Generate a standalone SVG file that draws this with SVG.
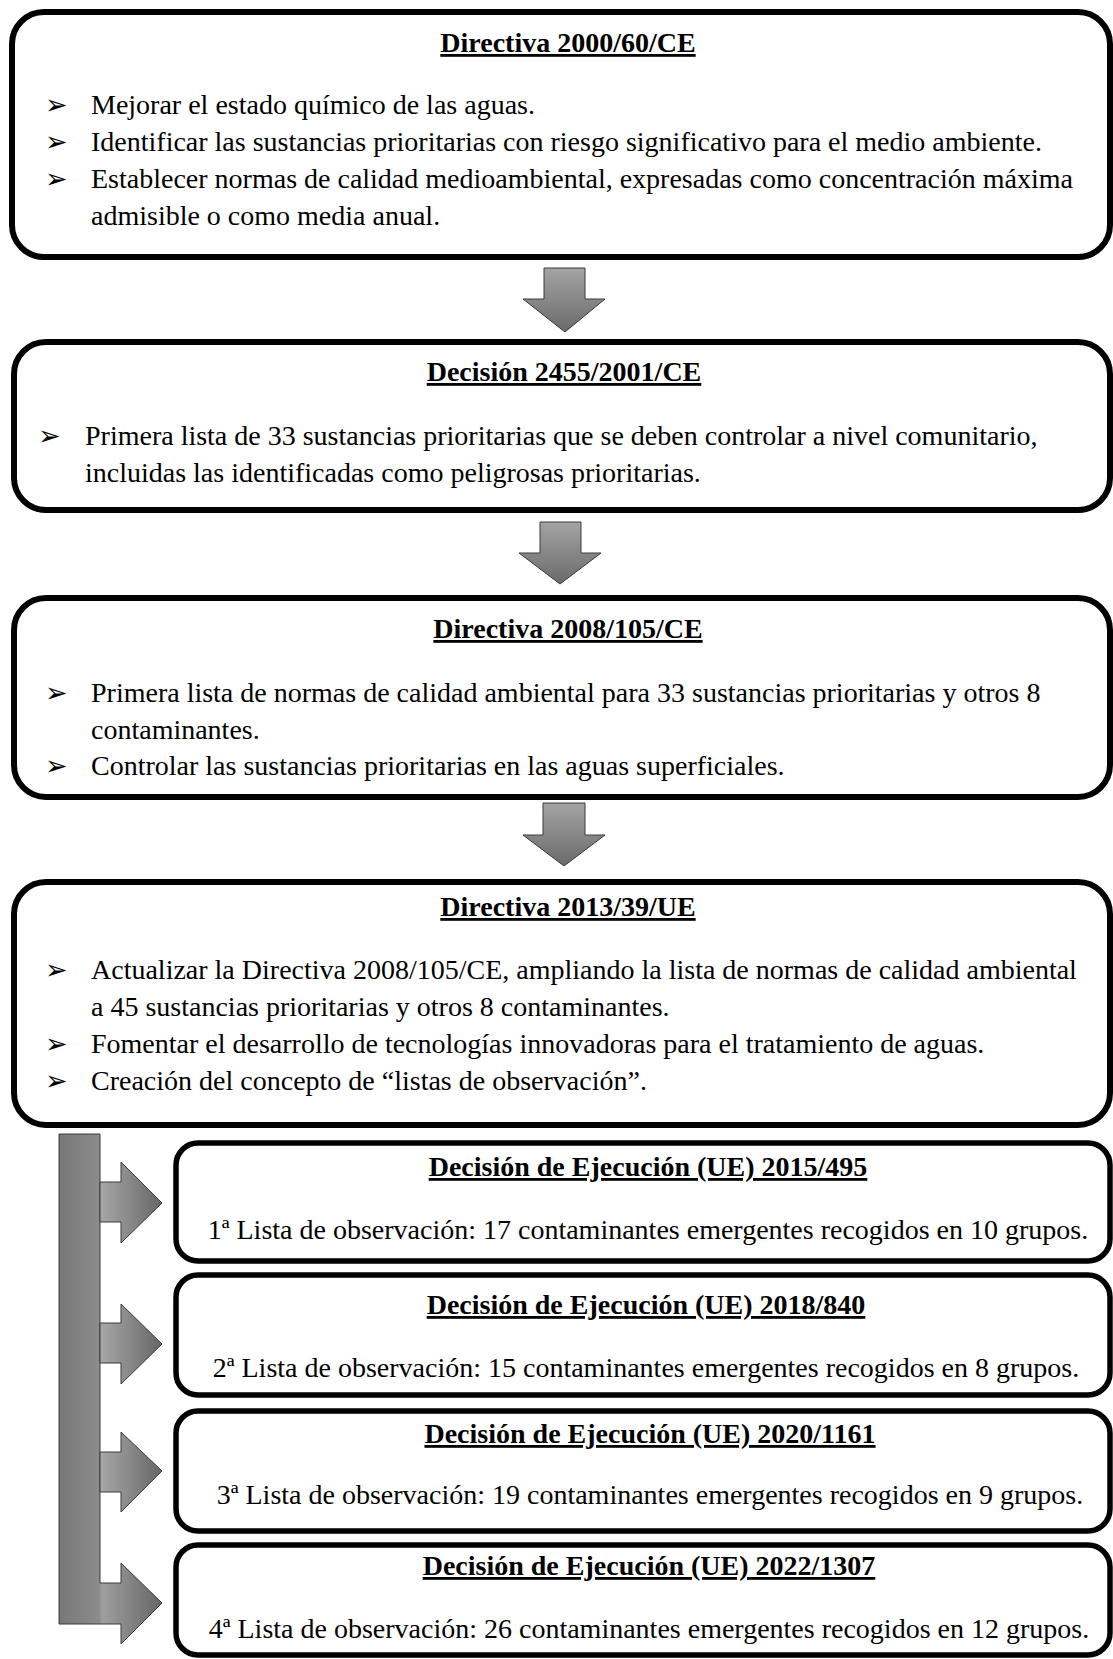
<svg xmlns="http://www.w3.org/2000/svg" width="1113" height="1659" viewBox="0 0 1113 1659">
<style>
.box{fill:#fff;stroke:#000;stroke-width:6}
.sbox{fill:#fff;stroke:#000;stroke-width:5.5}
text{font-family:"Liberation Serif","Times New Roman",serif;font-size:28px;fill:#000}
.t{font-weight:bold;text-decoration:underline;text-anchor:middle}
.c{text-anchor:middle}
.b{font-family:"DejaVu Sans",sans-serif;font-size:27px}
.arr{stroke:#3a3a3a;stroke-width:1}
</style>
<defs>
<linearGradient id="gDown" x1="0" y1="0" x2="0" y2="1">
<stop offset="0" stop-color="#a4a4a4"/>
<stop offset="1" stop-color="#6a6a6a"/>
</linearGradient>
<linearGradient id="gRight" x1="0" y1="0" x2="1" y2="0">
<stop offset="0" stop-color="#a8a8a8"/>
<stop offset="1" stop-color="#666"/>
</linearGradient>
<linearGradient id="gBar" gradientUnits="userSpaceOnUse" x1="59" y1="0" x2="162" y2="0">
<stop offset="0" stop-color="#777"/>
<stop offset="0.39" stop-color="#8c8c8c"/>
<stop offset="0.42" stop-color="#9e9e9e"/>
<stop offset="1" stop-color="#666"/>
</linearGradient>
</defs>

<g id="connectors">
<path class="arr" fill="url(#gDown)" d="M544,268 H585 V299 H605 L565,332 L523,299 H544 Z"/>
<path class="arr" fill="url(#gDown)" d="M540,522 H581 V553 H601 L560,584 L519,553 H540 Z"/>
<path class="arr" fill="url(#gDown)" d="M543,803 H585 V835 H605 L564,866 L523,835 H543 Z"/>
<path class="arr" fill="url(#gBar)" d="M59,1134 H100 V1583 H121 V1563 L162,1603 L121,1644 V1624 H59 Z"/>
<path class="arr" fill="url(#gRight)" d="M100,1182 H121 V1162 L162,1203 L121,1243 V1222 H100 Z"/>
<path class="arr" fill="url(#gRight)" d="M100,1323 H121 V1304 L162,1344 L121,1384 V1363 H100 Z"/>
<path class="arr" fill="url(#gRight)" d="M100,1452 H121 V1432 L162,1471 L121,1512 V1492 H100 Z"/>
</g>

<g id="node-directiva-2000">
<rect class="box" x="12" y="12" width="1098" height="245" rx="32"/>
<text class="t" x="568" y="52">Directiva 2000/60/CE</text>
<text class="b" x="45" y="114">➢</text>
<text x="91" y="114">Mejorar el estado químico de las aguas.</text>
<text class="b" x="45" y="151">➢</text>
<text x="91" y="151">Identificar las sustancias prioritarias con riesgo significativo para el medio ambiente.</text>
<text class="b" x="45" y="188">➢</text>
<text x="91" y="188">Establecer normas de calidad medioambiental, expresadas como concentración máxima</text>
<text x="91" y="225">admisible o como media anual.</text>
</g>

<g id="node-decision-2455">
<rect class="box" x="14" y="342" width="1096" height="168" rx="32"/>
<text class="t" x="564" y="381">Decisión 2455/2001/CE</text>
<text class="b" x="38" y="445">➢</text>
<text x="85" y="445">Primera lista de 33 sustancias prioritarias que se deben controlar a nivel comunitario,</text>
<text x="85" y="482">incluidas las identificadas como peligrosas prioritarias.</text>
</g>

<g id="node-directiva-2008">
<rect class="box" x="14" y="598" width="1096" height="199" rx="32"/>
<text class="t" x="568" y="638">Directiva 2008/105/CE</text>
<text class="b" x="45" y="702">➢</text>
<text x="91" y="702">Primera lista de normas de calidad ambiental para 33 sustancias prioritarias y otros 8</text>
<text x="91" y="739">contaminantes.</text>
<text class="b" x="45" y="775">➢</text>
<text x="91" y="775">Controlar las sustancias prioritarias en las aguas superficiales.</text>
</g>

<g id="node-directiva-2013">
<rect class="box" x="14" y="882" width="1096" height="243" rx="32"/>
<text class="t" x="568" y="916">Directiva 2013/39/UE</text>
<text class="b" x="45" y="979">➢</text>
<text x="91" y="979">Actualizar la Directiva 2008/105/CE, ampliando la lista de normas de calidad ambiental</text>
<text x="91" y="1016">a 45 sustancias prioritarias y otros 8 contaminantes.</text>
<text class="b" x="45" y="1053">➢</text>
<text x="91" y="1053">Fomentar el desarrollo de tecnologías innovadoras para el tratamiento de aguas.</text>
<text class="b" x="45" y="1090">➢</text>
<text x="91" y="1090">Creación del concepto de “listas de observación”.</text>
</g>

<g id="node-decision-2015">
<rect class="sbox" x="176" y="1143" width="934" height="118" rx="22"/>
<text class="t" x="648" y="1176">Decisión de Ejecución (UE) 2015/495</text>
<text class="c" x="648" y="1239">1ª Lista de observación: 17 contaminantes emergentes recogidos en 10 grupos.</text>
</g>

<g id="node-decision-2018">
<rect class="sbox" x="176" y="1275" width="934" height="120" rx="22"/>
<text class="t" x="646" y="1314">Decisión de Ejecución (UE) 2018/840</text>
<text class="c" x="646" y="1377">2ª Lista de observación: 15 contaminantes emergentes recogidos en 8 grupos.</text>
</g>

<g id="node-decision-2020">
<rect class="sbox" x="176" y="1411" width="934" height="120" rx="22"/>
<text class="t" x="650" y="1443">Decisión de Ejecución (UE) 2020/1161</text>
<text class="c" x="650" y="1504">3ª Lista de observación: 19 contaminantes emergentes recogidos en 9 grupos.</text>
</g>

<g id="node-decision-2022">
<rect class="sbox" x="176" y="1545" width="934" height="110" rx="22"/>
<text class="t" x="649" y="1575">Decisión de Ejecución (UE) 2022/1307</text>
<text class="c" x="649" y="1638">4ª Lista de observación: 26 contaminantes emergentes recogidos en 12 grupos.</text>
</g>
</svg>
